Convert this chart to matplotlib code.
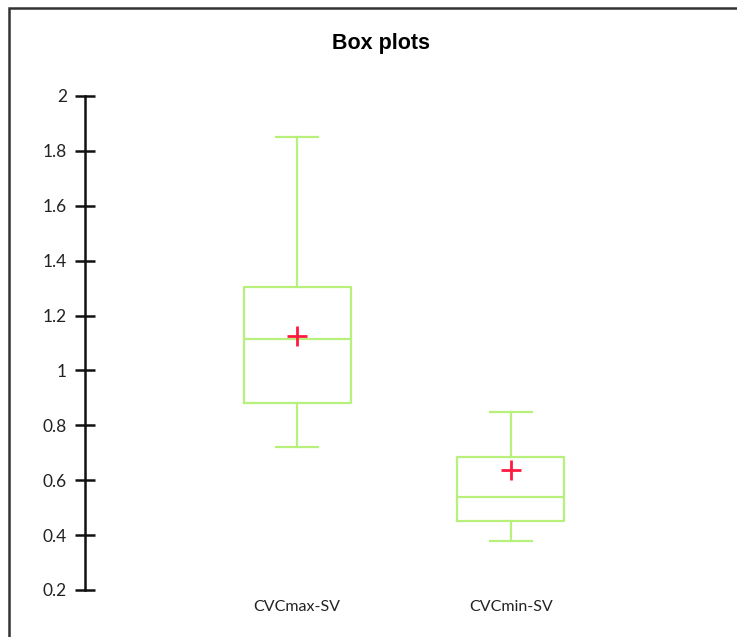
import matplotlib
matplotlib.use("Agg")
import matplotlib.pyplot as plt
from matplotlib.patches import Rectangle

categories = ["CVCmax-SV", "CVCmin-SV"]
whislo = [0.72, 0.38]
q1 = [0.88, 0.45]
med = [1.115, 0.54]
q3 = [1.305, 0.685]
whishi = [1.85, 0.85]
means = [1.125, 0.637]
yticks = [0.2, 0.4, 0.6, 0.8, 1.0, 1.2, 1.4, 1.6, 1.8, 2.0]
ytick_labels = ["0.2", "0.4", "0.6", "0.8", "1", "1.2", "1.4", "1.6", "1.8", "2"]

W, H = 737, 637
fig = plt.figure(figsize=(W / 100, H / 100), dpi=100)
ax = fig.add_axes([85 / W, 1 - 590 / H, (720 - 85) / W, (590 - 96) / H])

stats = []
for i, c in enumerate(categories):
    stats.append(dict(label=c, whislo=whislo[i], q1=q1[i], med=med[i],
                      q3=q3[i], whishi=whishi[i], mean=means[i], fliers=[]))

green = "#b8f07c"
ax.bxp(stats, positions=[1, 2], widths=0.5, capwidths=0.2, showmeans=True,
       showfliers=False, patch_artist=False,
       boxprops=dict(color=green, linewidth=1.6),
       whiskerprops=dict(color=green, linewidth=1.6),
       capprops=dict(color=green, linewidth=1.6),
       medianprops=dict(color=green, linewidth=1.6),
       meanprops=dict(marker="+", markeredgecolor="#ff1a40", markersize=14,
                      markeredgewidth=2))

ax.set_xlim(0.009, 2.977)
ax.set_ylim(0.2, 2.0)
for s in ["top", "right", "bottom"]:
    ax.spines[s].set_visible(False)
ax.spines["left"].set_linewidth(1.8)
ax.spines["left"].set_color("#111111")
ax.set_yticks(yticks)
ax.set_yticklabels(ytick_labels, fontsize=12.5, family="Lato", color="#222222")
ax.tick_params(axis="y", direction="inout", length=14, width=1.8, pad=6,
               color="#111111")
ax.tick_params(axis="x", length=0, pad=7)
ax.set_xticks([1, 2])
ax.set_xticklabels(categories, fontsize=11.5, family="Lato", color="#222222")

fig.text(381 / W, 1 - 43 / H, "Box plots", ha="center", va="center",
         fontsize=15.5, fontweight="bold", family="Liberation Sans")

fig.patches.append(Rectangle((9 / W, -0.1), 1.2, 1 - 8 / H + 0.1,
                             transform=fig.transFigure, fill=False,
                             edgecolor="#333333", linewidth=1.8))

fig.savefig("out.png", dpi=100)
